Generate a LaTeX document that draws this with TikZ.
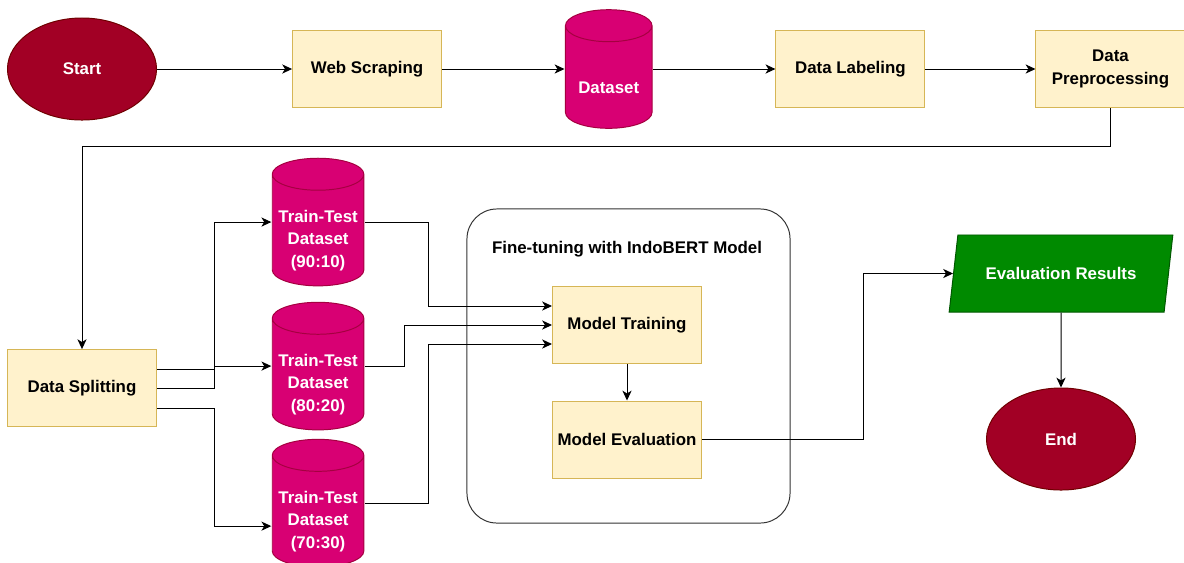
\documentclass[tikz,border=0pt]{standalone}
\usepackage{fontspec}
\setmainfont{Liberation Sans}
\usepackage{tikz}
\usetikzlibrary{shapes.geometric, arrows, arrows.meta, calc}
\definecolor{termfill}{HTML}{A20025}
\definecolor{termline}{HTML}{6F0000}
\definecolor{dbfill}{HTML}{D80073}
\definecolor{dbline}{HTML}{A50040}
\definecolor{procfill}{HTML}{FFF2CC}
\definecolor{procline}{HTML}{D6B656}
\definecolor{iofill}{HTML}{008A00}
\definecolor{ioline}{HTML}{005700}
\tikzstyle{every node} = [font=\fontsize{12}{16}\selectfont\bfseries]
\tikzstyle{startstop} = [ellipse, minimum width=3.725cm, minimum height=2.55cm, text centered, line width=0.7pt, draw=termline, fill=termfill, text=white]
\tikzstyle{process} = [rectangle, minimum width=3.725cm, minimum height=1.925cm, text centered, align=center, line width=0.7pt, draw=procline, fill=procfill]
\tikzstyle{database} = [rectangle, minimum width=2.325cm, minimum height=3.225cm, inner sep=0pt, path picture={
    \draw [line width=0.7pt, draw=dbline, fill=dbfill]
      let \p1 = (path picture bounding box.south west), \p2 = (path picture bounding box.north east),
          \n1 = {(\x2-\x1)/2-0.5pt} in
      (\x1+0.5pt, \y2-0.4cm-0.5pt) -- (\x1+0.5pt, \y1+0.4cm+0.5pt)
        arc[start angle=180, end angle=360, x radius=\n1, y radius=0.4cm]
        -- (\x2-0.5pt, \y2-0.4cm-0.5pt)
        arc[start angle=0, end angle=180, x radius=\n1, y radius=0.4cm] -- cycle
      (\x1+0.5pt, \y2-0.4cm-0.5pt) arc[start angle=180, end angle=360, x radius=\n1, y radius=0.4cm];
  }]
\tikzstyle{dbtext} = [text=white, align=center, yshift=-0.46cm]
\tikzstyle{io} = [trapezium, trapezium left angle=72.7, trapezium right angle=107.3, trapezium stretches=true, minimum width=5.6cm, minimum height=1.925cm, line width=0.7pt, draw=ioline, fill=iofill, text=white]
\tikzstyle{frame} = [rectangle, rounded corners=0.75cm, minimum width=8.075cm, minimum height=7.85cm, line width=0.7pt, draw=black!80]
\tikzstyle{arrow} = [line width=0.7pt, ->, >={Stealth[length=7pt, width=6.5pt, inset=2pt]}]

\begin{document}
\begin{tikzpicture}[x=0.025cm, y=-0.025cm, node distance=6cm]
            \useasboundingbox (0,0) rectangle (1184,562);
            \node (tuning) [frame] at (628.5,366) {};
            \node (tuningtitle) at (627,249) {Fine-tuning with IndoBERT Model};

            \node (start) [startstop] at (82,69) {Start};
            \node (web) [process, right of=start, xshift=1.125cm] {Web Scraping};
            \node (dataset) [database, minimum width=2.2cm, minimum height=3cm, right of=web, xshift=0.04cm, label={[dbtext]center:Dataset}] {};
            \node (labeling) [process, right of=dataset, xshift=0.04cm] {Data Labeling};
            \node (prep) [process, right of=labeling, xshift=0.5cm] {Data\\Preprocessing};
            \node (split) [process, below of=start, yshift=-1.975cm] {Data Splitting};
            \node (tt2) [database, right of=split, xshift=-0.1cm, yshift=0.55cm, label={[dbtext]center:Train-Test\\Dataset\\(80:20)}] {};
            \node (tt1) [database, above of=tt2, yshift=-2.4cm, label={[dbtext]center:Train-Test\\Dataset\\(90:10)}] {};
            \node (tt3) [database, below of=tt2, yshift=2.575cm, label={[dbtext]center:Train-Test\\Dataset\\(70:30)}] {};
            \node (train) [process] at (627,325) {Model Training};
            \node (eval) [process] at (627,439.5) {Model Evaluation};
            \node (results) [io] at (1061,273.5) {Evaluation Results};
            \node (end) [startstop] at (1061,439) {End};

            \draw [arrow] (start) -- (web);
            \draw [arrow] (web) -- (dataset);
            \draw [arrow] (dataset) -- (labeling);
            \draw [arrow] (labeling) -- (prep);
            \draw [arrow] (prep.south) -- ++(0,38) -| (split.north);
            \draw [arrow] ([yshift=0.475cm]split.east) -- ++(57,0) |- (tt1.west);
            \draw [arrow] (split.east) -- ++(57,0) |- (tt2.west);
            \draw [arrow] ([yshift=-0.5cm]split.east) -- ++(57,0) |- ([yshift=-0.575cm]tt3.west);
            \draw [arrow] (tt1.east) -- ++(64,0) |- ([yshift=0.475cm]train.west);
            \draw [arrow] (tt2.east) -- ++(40,0) |- (train.west);
            \draw [arrow] (tt3.east) -- ++(64,0) |- ([yshift=-0.475cm]train.west);
            \draw [arrow] (train) -- (eval);
            \draw [arrow] (eval.east) -- ++(161,0) |- (results.west);
            \draw [arrow] (results.south) -- (end.north);
        \end{tikzpicture}
\end{document}
